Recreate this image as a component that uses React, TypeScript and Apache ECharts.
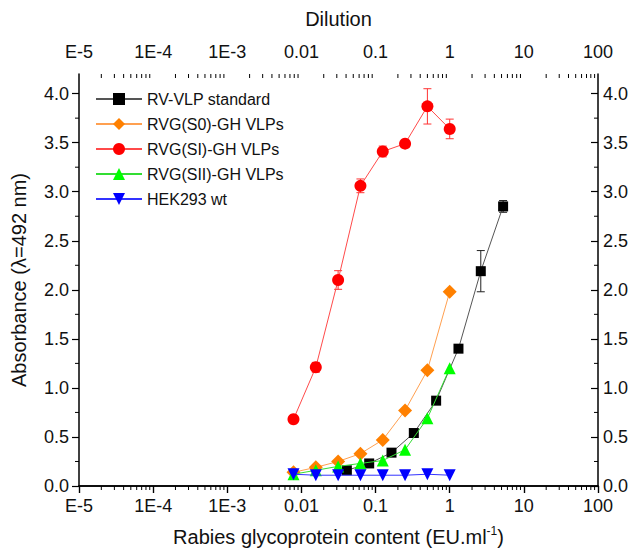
import React, { useEffect, useRef } from "react";
import * as echarts from "echarts";

const FONT = "'Liberation Sans', Arial, Helvetica, sans-serif";

// x positions (EU/ml)
const xSamples = [0.0078125, 0.015625, 0.03125, 0.0625, 0.125, 0.25, 0.5, 1];
const xStandard = [0.041, 0.082, 0.164, 0.328, 0.656, 1.3125, 2.625, 5.25];

// absorbance values
const rvVlpStandard = [0.16, 0.23, 0.34, 0.54, 0.87, 1.4, 2.19, 2.85];
const rvVlpStandardErr = [0, 0, 0, 0, 0, 0, 0.21, 0.06];
const rvgS0 = [0.14, 0.19, 0.25, 0.33, 0.47, 0.77, 1.18, 1.98];
const rvgSI = [0.68, 1.21, 2.1, 3.06, 3.41, 3.49, 3.87, 3.64];
const rvgSIErr = [0, 0.05, 0.095, 0.07, 0.055, 0, 0.18, 0.1];
const rvgSII = [0.12, 0.16, 0.2, 0.23, 0.26, 0.37, 0.69, 1.2];
const hek293 = [0.12, 0.11, 0.11, 0.11, 0.11, 0.11, 0.12, 0.11];

const seriesNames = [
  "RV-VLP standard",
  "RVG(S0)-GH VLPs",
  "RVG(SI)-GH VLPs",
  "RVG(SII)-GH VLPs",
  "HEK293 wt",
];

const xTickLabels = ["E-5", "1E-4", "1E-3", "0.01", "0.1", "1", "10", "100"];
const yTickValues = [0, 0.5, 1, 1.5, 2, 2.5, 3, 3.5, 4];
const yMinorValues = [0.25, 0.75, 1.25, 1.75, 2.25, 2.75, 3.25, 3.75];
const xMinorValues: number[] = [];
for (let d = -5; d <= 1; d++) {
  for (let k = 2; k <= 9; k++) xMinorValues.push(k * Math.pow(10, d));
}

const X_MIN = 1e-5;
const X_MAX = 100;
const Y_MIN = 0;
const Y_MAX = 4.2;

function pairs(xs: number[], ys: number[]) {
  return xs.map((x, i) => [x, ys[i]]);
}

function errorSeries(xs: number[], ys: number[], errs: number[], color: string) {
  const data: number[][] = [];
  xs.forEach((x, i) => {
    if (errs[i] > 0) data.push([x, ys[i] - errs[i], ys[i] + errs[i]]);
  });
  return {
    type: "custom",
    xAxisIndex: 0,
    yAxisIndex: 0,
    silent: true,
    z: 1,
    data,
    renderItem: (params: any, api: any) => {
      const lo = api.coord([api.value(0), api.value(1)]);
      const hi = api.coord([api.value(0), api.value(2)]);
      const w = 4;
      const st = { stroke: color, lineWidth: 1 };
      return {
        type: "group",
        children: [
          { type: "line", shape: { x1: lo[0], y1: lo[1], x2: hi[0], y2: hi[1] }, style: st },
          { type: "line", shape: { x1: lo[0] - w, y1: lo[1], x2: lo[0] + w, y2: lo[1] }, style: st },
          { type: "line", shape: { x1: hi[0] - w, y1: hi[1], x2: hi[0] + w, y2: hi[1] }, style: st },
        ],
      };
    },
  };
}

function xLabel(v: number) {
  const idx = Math.round(Math.log10(v)) + 5;
  return xTickLabels[idx] ?? "";
}

export default function App() {
  const ref = useRef<HTMLDivElement>(null);
  useEffect(() => {
    document.body.style.margin = "0";
    const chart = echarts.init(ref.current!, null, { renderer: "svg" });
    const axisLine = { show: true, lineStyle: { color: "#000", width: 1.5 } };
    const labelStyle = { fontFamily: FONT, fontSize: 18, color: "#111" };
    const option: any = {
      animation: false,
      backgroundColor: "#fff",
      textStyle: { fontFamily: FONT },
      grid: { left: 79, right: 36, top: 74, bottom: 70, containLabel: false },
      legend: {
        data: seriesNames,
        orient: "vertical",
        left: 90,
        top: 86,
        itemWidth: 46,
        itemHeight: 15,
        itemGap: 9,
        textStyle: { fontFamily: FONT, fontSize: 16, color: "#111" },
      },
      xAxis: [
        {
          type: "log",
          logBase: 10,
          min: X_MIN,
          max: X_MAX,
          splitNumber: 7,
          position: "bottom",
          name: "Rabies glycoprotein content (EU.ml{sup|-1})",
          nameLocation: "middle",
          nameGap: 39,
          nameTextStyle: {
            fontFamily: FONT,
            fontSize: 20,
            color: "#111",
            lineHeight: 24,
            rich: { sup: { fontFamily: FONT, fontSize: 12, lineHeight: 10, verticalAlign: "top", color: "#111" } },
          },
          axisLine,
          axisTick: { show: true, inside: false, length: 7, lineStyle: { color: "#000", width: 1.2 } },
          axisLabel: { ...labelStyle, margin: 11, formatter: xLabel },
          splitLine: { show: false },
        },
        {
          type: "log",
          logBase: 10,
          min: X_MIN,
          max: X_MAX,
          splitNumber: 7,
          position: "top",
          name: "Dilution",
          nameLocation: "middle",
          nameGap: 45,
          nameTextStyle: { fontFamily: FONT, fontSize: 20, color: "#111" },
          axisLine,
          axisTick: { show: true, inside: true, length: 7, lineStyle: { color: "#000", width: 1.2 } },
          axisLabel: { ...labelStyle, margin: 13, formatter: xLabel },
          splitLine: { show: false },
        },
      ],
      yAxis: [
        {
          type: "value",
          min: Y_MIN,
          max: Y_MAX,
          interval: 0.5,
          position: "left",
          name: "Absorbance (λ=492 nm)",
          nameLocation: "middle",
          nameGap: 50,
          nameTextStyle: { fontFamily: FONT, fontSize: 20, color: "#111" },
          axisLine,
          axisTick: { show: true, inside: false, length: 7, customValues: yTickValues, lineStyle: { color: "#000", width: 1.2 } },
          axisLabel: { ...labelStyle, margin: 10, customValues: yTickValues, formatter: (v: number) => v.toFixed(1) },
          splitLine: { show: false },
        },
        {
          type: "value",
          min: Y_MIN,
          max: Y_MAX,
          interval: 0.5,
          position: "right",
          axisLine,
          axisTick: { show: true, inside: true, length: 7, customValues: yTickValues, lineStyle: { color: "#000", width: 1.2 } },
          axisLabel: { ...labelStyle, margin: 5, customValues: yTickValues, formatter: (v: number) => v.toFixed(1) },
          splitLine: { show: false },
        },
      ],
      series: [
        // minor ticks on x axes
        {
          type: "custom",
          silent: true,
          clip: false,
          data: xMinorValues.map((v) => [v, Y_MIN]),
          renderItem: (params: any, api: any) => {
            const b = api.coord([api.value(0), Y_MIN]);
            const t = api.coord([api.value(0), Y_MAX]);
            const st = { stroke: "#000", lineWidth: 1 };
            return {
              type: "group",
              children: [
                { type: "line", shape: { x1: b[0], y1: b[1], x2: b[0], y2: b[1] + 4 }, style: st },
                { type: "line", shape: { x1: t[0], y1: t[1], x2: t[0], y2: t[1] + 4 }, style: st },
              ],
            };
          },
        },
        // minor ticks on y axes
        {
          type: "custom",
          silent: true,
          clip: false,
          data: yMinorValues.map((v) => [X_MIN, v]),
          renderItem: (params: any, api: any) => {
            const l = api.coord([X_MIN, api.value(1)]);
            const r = api.coord([X_MAX, api.value(1)]);
            const st = { stroke: "#000", lineWidth: 1 };
            return {
              type: "group",
              children: [
                { type: "line", shape: { x1: l[0] - 4, y1: l[1], x2: l[0], y2: l[1] }, style: st },
                { type: "line", shape: { x1: r[0] - 4, y1: r[1], x2: r[0], y2: r[1] }, style: st },
              ],
            };
          },
        },
        errorSeries(xStandard, rvVlpStandard, rvVlpStandardErr, "#222"),
        errorSeries(xSamples, rvgSI, rvgSIErr, "#ff3333"),
        {
          name: seriesNames[0],
          type: "line",
          data: pairs(xStandard, rvVlpStandard),
          symbol: "rect",
          symbolSize: 10,
          itemStyle: { color: "#000" },
          lineStyle: { color: "#555", width: 1 },
          z: 3,
        },
        {
          name: seriesNames[1],
          type: "line",
          data: pairs(xSamples, rvgS0),
          symbol: "diamond",
          symbolSize: 14,
          itemStyle: { color: "#ff8000" },
          lineStyle: { color: "#ffa050", width: 1 },
          z: 3,
        },
        {
          name: seriesNames[2],
          type: "line",
          data: pairs(xSamples, rvgSI),
          symbol: "circle",
          symbolSize: 12,
          itemStyle: { color: "#ff0000" },
          lineStyle: { color: "#ff4a4a", width: 1 },
          z: 3,
        },
        {
          name: seriesNames[3],
          type: "line",
          data: pairs(xSamples, rvgSII),
          symbol: "triangle",
          symbolSize: 12,
          itemStyle: { color: "#00ff00" },
          lineStyle: { color: "#33dd33", width: 1 },
          z: 4,
        },
        {
          name: seriesNames[4],
          type: "line",
          data: pairs(xSamples, hek293),
          symbol: "path://M0,0 L10,0 L5,9 Z",
          symbolSize: 12,
          itemStyle: { color: "#0000ff" },
          lineStyle: { color: "#3333ff", width: 1 },
          z: 5,
        },
      ],
    };
    chart.setOption(option);
    return () => chart.dispose();
  }, []);
  return <div ref={ref} style={{ width: 634, height: 556 }} />;
}
